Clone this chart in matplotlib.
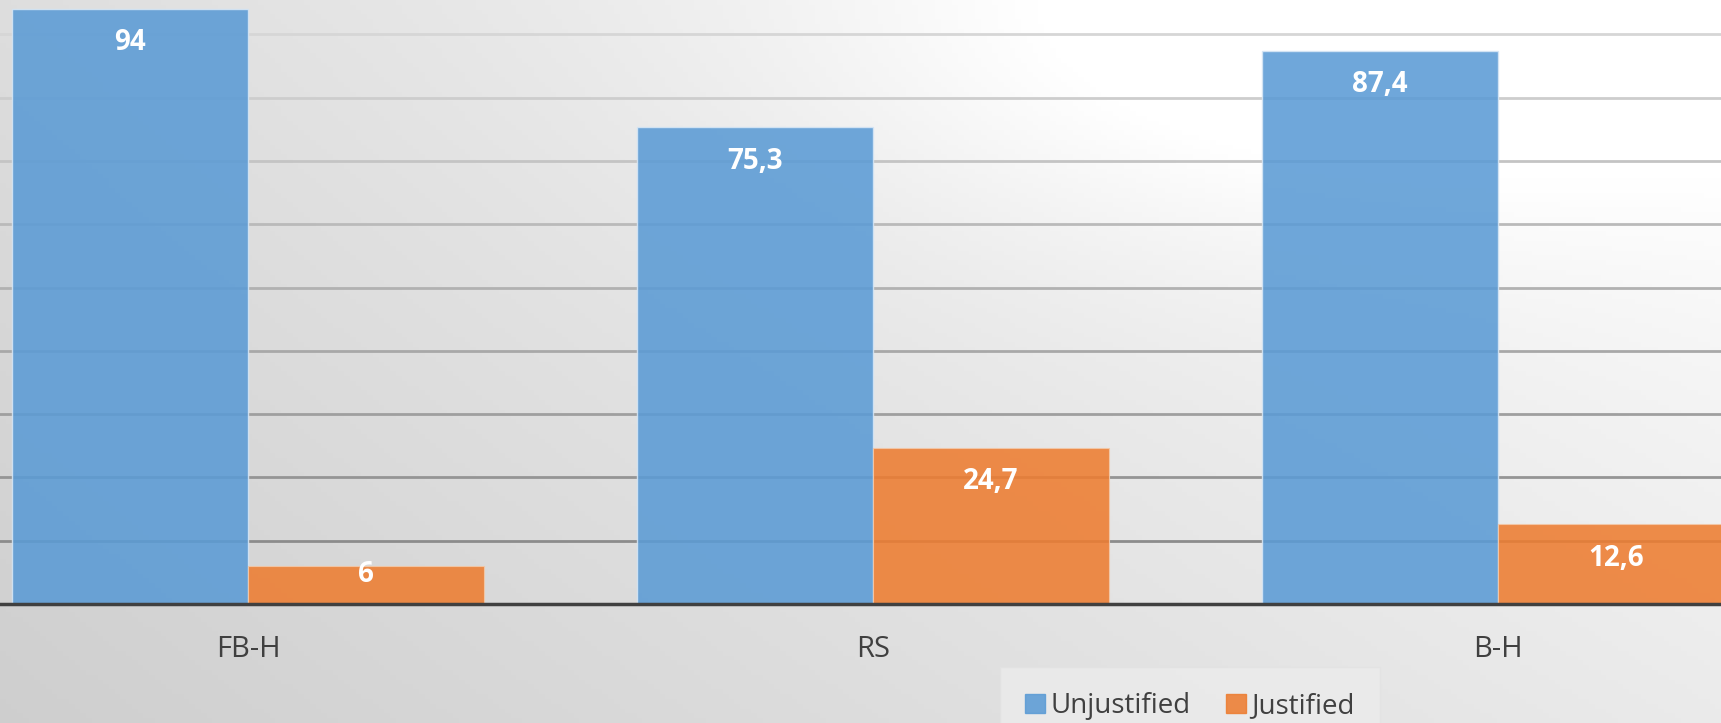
import numpy as np
import matplotlib
matplotlib.use("Agg")
import matplotlib.pyplot as plt
from matplotlib.patches import Patch

categories = ["FB-H", "RS", "B-H"]
unjustified = [94, 75.3, 87.4]
justified = [6, 24.7, 12.6]
series_names = ["Unjustified", "Justified"]

W, H, DPI = 1721, 723, 100
plt.rcParams["font.family"] = ["Open Sans", "DejaVu Sans"]

fig = plt.figure(figsize=(W / DPI, H / DPI), dpi=DPI)

# background gradient: grey at lower left, white at upper right
bg = fig.add_axes([0, 0, 1, 1], zorder=0)
xx, yy = np.meshgrid(np.linspace(0, 1, 300), np.linspace(0, 1, 150))
v = 0.81 * (1 - xx) * (1 - yy) + 0.87 * (1 - xx) * yy + 0.92 * xx * (1 - yy) + 1.0 * xx * yy
v = np.clip(v + 0.07 * np.exp(-((xx - 0.75) ** 2 + (yy - 0.95) ** 2) / 0.08), 0, 1)
bg.imshow(np.dstack([v, v, v]), origin="lower", aspect="auto", extent=[0, 1, 0, 1])
bg.axis("off")

# plot area: baseline 604 px from top, 10 units = 63.3 px
base_px = 604
px_per_unit = 6.33
ax = fig.add_axes([0, (H - base_px) / H, 1, base_px / H], zorder=1)
ax.patch.set_alpha(0)

spacing = 625.0
x0 = 248.0
bw = 236.0 / spacing
x = np.arange(len(categories))

b1 = ax.bar(x - bw / 2, unjustified, bw, color="#5B9BD5", alpha=0.88,
            edgecolor="#d6e6f5", linewidth=1, zorder=3)
b2 = ax.bar(x + bw / 2, justified, bw, color="#ED7D31", alpha=0.88,
            edgecolor="#f3c8a8", linewidth=0.8, zorder=3)

ax.set_xlim(-x0 / spacing, (W - x0) / spacing)
ax.set_ylim(0, base_px / px_per_unit)

ax.set_yticks(np.arange(10, 100, 10))
ax.yaxis.grid(True, linewidth=2)
ax.set_axisbelow(True)
for i, gl in enumerate(ax.get_ygridlines()):
    t = i / 8
    c = 0.55 + 0.29 * t
    gl.set_color((c, c, c))
ax.tick_params(axis="y", left=False, labelleft=False)

for s in ["top", "right", "left"]:
    ax.spines[s].set_visible(False)
ax.spines["bottom"].set_color("#404040")
ax.spines["bottom"].set_linewidth(2.5)
ax.spines["bottom"].set_zorder(4)

ax.set_xticks(x)
ax.set_xticklabels(categories, fontsize=21, color="#404040")
ax.tick_params(axis="x", bottom=False, pad=19)

for bars, vals in [(b1, unjustified), (b2, justified)]:
    for rect, val in zip(bars, vals):
        h_px = val * px_per_unit
        off_px = min(34, h_px - 29)
        ax.annotate(f"{val:g}".replace(".", ","),
                    (rect.get_x() + rect.get_width() / 2, val),
                    xytext=(0, -off_px * 72 / DPI), textcoords="offset points",
                    ha="center", va="center", color="white",
                    fontsize=20, fontweight="bold", zorder=5)

handles = [Patch(color="#5B9BD5", alpha=0.88), Patch(color="#ED7D31", alpha=0.88)]
leg = fig.legend(handles, series_names, loc="center",
                 bbox_to_anchor=(1190 / W, 1 - 706 / H),
                 ncol=2, frameon=True, fontsize=20,
                 handlelength=0.7, handleheight=0.7, handletextpad=0.2,
                 columnspacing=1.3, borderpad=0.6)
leg.get_frame().set_facecolor("#ececec")
leg.get_frame().set_edgecolor("#e2e2e2")
leg.get_frame().set_boxstyle("square")
for t in leg.get_texts():
    t.set_color("#404040")

fig.savefig("out.png", dpi=DPI)
